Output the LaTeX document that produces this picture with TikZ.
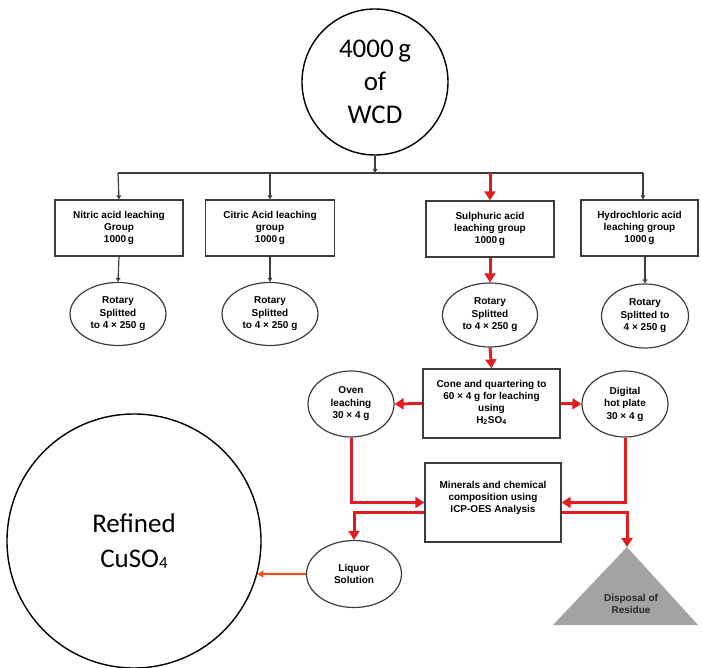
\documentclass[tikz,border=0pt]{standalone}
\usepackage{fontspec}
\setmainfont{Liberation Sans}
\newfontfamily\calfont{Carlito}
\usetikzlibrary{arrows.meta,shapes.geometric,calc}
\definecolor{fred}{RGB}{224,30,34}
\definecolor{forange}{RGB}{226,84,30}
\definecolor{fborder}{RGB}{60,60,60}
\definecolor{fgray}{RGB}{163,163,163}
\begin{document}
\begin{tikzpicture}[x=1pt,y=-1pt,
  boxnode/.style={draw=fborder,line width=1.3pt,rectangle,align=center,inner sep=1pt,
    font=\bfseries\fontsize{10}{12}\selectfont},
  ellnode/.style={draw=fborder,line width=1.2pt,ellipse,align=center,inner sep=0pt,
    font=\bfseries\fontsize{10}{12.5}\selectfont},
  bigcirc/.style={draw=black,line width=1.4pt,circle,align=center,inner sep=0pt,font=\calfont},
  blk/.style={draw=fborder,line width=1.2pt},
  blkarr/.style={blk,-{Triangle[length=4pt,width=4.5pt]}},
  redline/.style={draw=fred,line width=3pt},
  redarr/.style={redline,-{Triangle[length=9pt,width=11pt]}},
]
\useasboundingbox (0,0) rectangle (702,668);

% top circle
\node[bigcirc,minimum size=146pt,font=\calfont\fontsize{27}{33}\selectfont] (wcd) at (375,82) {4000\,g\\of\\WCD};

% junctions on the distribution line
\coordinate (j0) at (375,173);
\coordinate (j1) at (118,173);
\coordinate (j2) at (270,173);
\coordinate (j3) at (490,173);
\coordinate (j4) at (643,173);

% group boxes
\node[boxnode,minimum width=128pt,minimum height=56pt] (nitric) at (119,228) {Nitric acid leaching\\Group\\1000\,g};
\node[boxnode,minimum width=129pt,minimum height=56pt] (citric) at (270,228) {Citric Acid leaching\\group\\1000\,g};
\node[boxnode,minimum width=128pt,minimum height=56pt] (sulph) at (490,229) {Sulphuric acid\\leaching group\\1000\,g};
\node[boxnode,minimum width=117pt,minimum height=56pt] (hydro) at (639.5,228) {Hydrochloric acid\\leaching group\\1000\,g};

% rotary ellipses
\node[ellnode,minimum width=96pt,minimum height=63pt] (nrot) at (118,314) {Rotary\\Splitted\\to 4 × 250 g};
\node[ellnode,minimum width=96pt,minimum height=63pt] (crot) at (270,314) {Rotary\\Splitted\\to 4 × 250 g};
\node[ellnode,minimum width=95pt,minimum height=64pt] (srot) at (490,315) {Rotary\\Splitted\\to 4 × 250 g};
\node[ellnode,minimum width=87pt,minimum height=64pt] (hrot) at (645,316) {Rotary\\Splitted to\\4 × 250 g};

% cone and quartering
\node[boxnode,minimum width=137pt,minimum height=69pt,text depth=4pt] (cone) at (491.5,403.5) {Cone and quartering to\\60 × 4 g for leaching\\using\\H\textsubscript{2}SO\textsubscript{4}};
\node[ellnode,minimum width=86pt,minimum height=66pt] (oven) at (351,404) {Oven\\leaching\\30 × 4 g};
\node[ellnode,minimum width=86pt,minimum height=66pt] (digital) at (625,404) {Digital\\hot plate\\30 × 4 g};

% minerals box
\node[boxnode,minimum width=136pt,minimum height=79pt,text depth=12pt] (minerals) at (493,502.5) {Minerals and chemical\\composition using\\ICP-OES Analysis};

% liquor
\node[ellnode,minimum width=95pt,minimum height=67pt] (liquor) at (354,574) {Liquor\\Solution};

% disposal triangle
\coordinate (apex) at (627,547);
\coordinate (tl) at (553,625);
\coordinate (tr) at (698,625);
\fill[fgray] (apex) -- (tl) -- (tr) -- cycle;
\node[font=\bfseries\fontsize{10}{12.5}\selectfont,align=center,text=black!85] (disp) at (631,604) {Disposal of\\Residue};

% refined circle
\node[bigcirc,minimum size=254pt,font=\calfont\fontsize{27}{35}\selectfont] (refined) at (134,541) {Refined\\CuSO{\fontsize{17}{17}\selectfont\raisebox{-1.5pt}{4}}};

% connectors - top
\draw[blkarr] (wcd.south) -- (j0);
\draw[blk] (j1) -- (j4);
\draw[blkarr] (j1) -- (nitric.north);
\draw[blkarr] (j2) -- (citric.north);
\draw[blkarr] (j4) -- (j4 |- hydro.north);
\draw[redarr] (j3) -- (sulph.north);

\draw[blkarr] (nitric.south) -- (nrot.north);
\draw[blkarr] (citric.south) -- (crot.north);
\draw[blkarr] (hydro.south -| hrot.north) -- (hrot.north);
\draw[redarr] (sulph.south) -- (srot.north);
\draw[redarr] (srot.south) -- (cone.north);

\draw[redarr] (cone.west) -- (oven.east);
\draw[redarr] (cone.east) -- (digital.west);

\draw[redarr] (oven.south) |- (minerals.west);
\draw[redarr] (digital.south) |- (minerals.east);

\draw[redarr] ([yshift=-10pt]minerals.west) -| (liquor.north);
\draw[redarr] ([yshift=-10pt]minerals.east) -| (apex);

\draw[draw=forange,line width=2.4pt,-{Triangle[length=6pt,width=7pt]}] (liquor.west) -- (refined.-15.5);
\end{tikzpicture}
\end{document}
